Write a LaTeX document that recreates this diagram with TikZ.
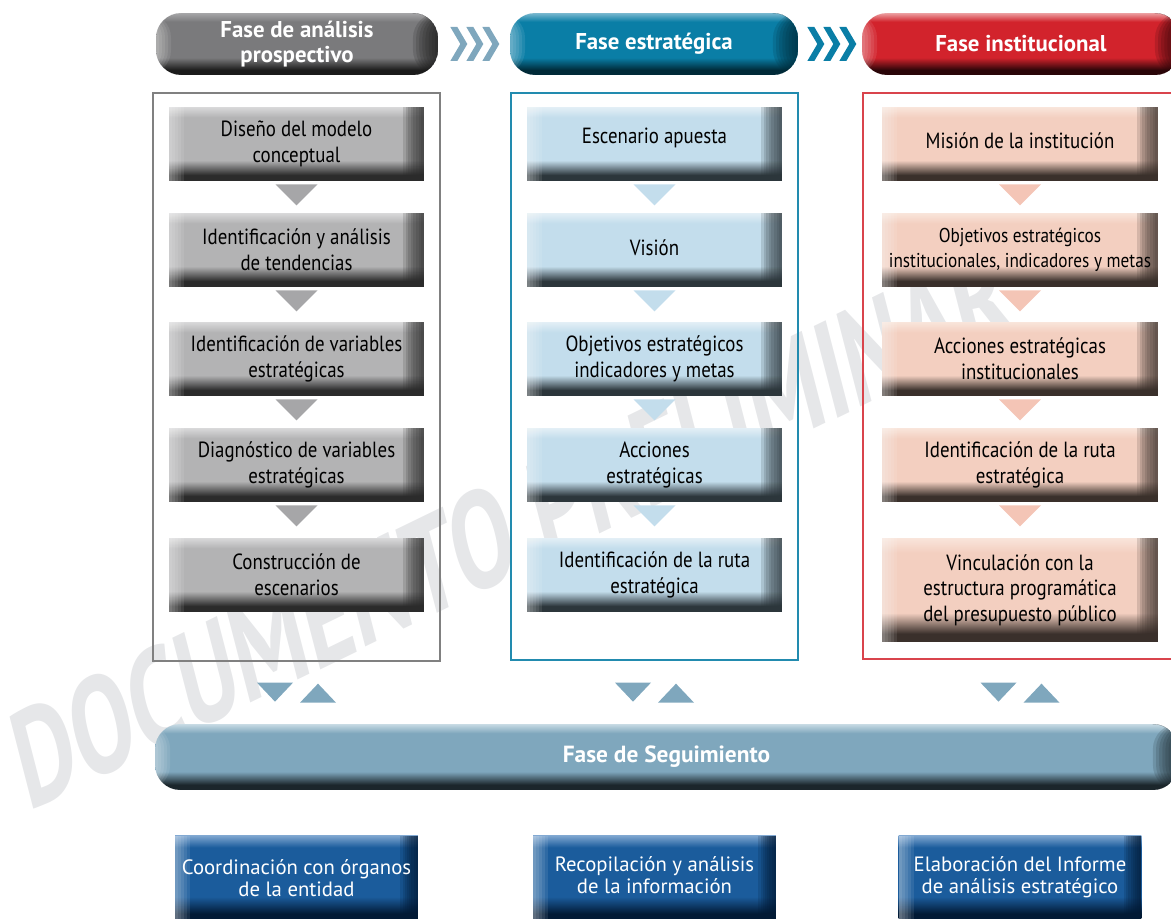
\documentclass[tikz,border=0pt]{standalone}
\usepackage{fontspec}
\setmainfont{PT Sans}
\newfontfamily\angosta[FakeStretch=0.86]{PT Sans}
\usetikzlibrary{calc}

\definecolor{grisclaro}{HTML}{D9D9DA}
\definecolor{grismedio}{HTML}{B3B3B4}
\definecolor{grisoscuro}{HTML}{2B2B2B}
\definecolor{celesteclaro}{HTML}{E3EFF6}
\definecolor{celestemedio}{HTML}{C3DDEC}
\definecolor{celesteoscuro}{HTML}{2C363B}
\definecolor{salmonclaro}{HTML}{F9E5DB}
\definecolor{salmonmedio}{HTML}{F3CFC0}
\definecolor{salmonoscuro}{HTML}{3A302B}
\definecolor{faseclaro}{HTML}{A6A6A8}
\definecolor{fasemedio}{HTML}{7A7A7C}
\definecolor{faseoscuro}{HTML}{1B1B1B}
\definecolor{tealclaro}{HTML}{7AB8CF}
\definecolor{tealmedio}{HTML}{0A7EA6}
\definecolor{tealoscuro}{HTML}{002A38}
\definecolor{rojoclaro}{HTML}{ECA0A2}
\definecolor{rojomedio}{HTML}{D2232C}
\definecolor{rojooscuro}{HTML}{2A0508}
\definecolor{seguiclaro}{HTML}{C8DBE4}
\definecolor{seguimedio}{HTML}{7FA7BD}
\definecolor{seguioscuro}{HTML}{1B262B}
\definecolor{azulclaro}{HTML}{7EA6D0}
\definecolor{azulmedio}{HTML}{1B5C9C}
\definecolor{azuloscuro}{HTML}{021A35}
\definecolor{marca}{HTML}{E6E7E9}

\colorlet{bvtop}{white}
\colorlet{bvmid}{gray}
\colorlet{bvbot}{black}
\pgfdeclareverticalshading[bvtop,bvmid,bvbot]{relieve}{100bp}{color(0bp)=(bvbot); color(29bp)=(bvbot); color(39bp)=(bvmid); color(68bp)=(bvmid); color(75bp)=(bvtop); color(100bp)=(bvtop)}

\tikzset{
	tonos/.style n args={3}{/utils/exec={\colorlet{bvtop}{#1}\colorlet{bvmid}{#2}\colorlet{bvbot}{#3}}, shade, shading=relieve},
	biselado/.style={path picture={
			\foreach \k in {1,...,8}
				\fill[bvbot, fill opacity=0.16] ([xshift=-#1*\k/8]path picture bounding box.north east) rectangle (path picture bounding box.south east);
			\foreach \k in {1,...,5}
				\fill[white, fill opacity=0.09] (path picture bounding box.north west) rectangle ([xshift=0.3cm*\k/5]path picture bounding box.south west);
		}},
	paso/.style={rectangle, minimum width=5.1cm, minimum height=1.48cm, inner sep=1pt, align=center, text=black, font=\angosta\fontsize{12.5}{14.6}\selectfont, biselado=0.42cm},
	pasogris/.style={paso, tonos={grisclaro}{grismedio}{grisoscuro}},
	pasoceleste/.style={paso, tonos={celesteclaro}{celestemedio}{celesteoscuro}},
	pasosalmon/.style={paso, minimum width=5.52cm, tonos={salmonclaro}{salmonmedio}{salmonoscuro}},
	fase/.style={rectangle, rounded corners=0.5cm, minimum height=1.24cm, inner sep=1pt, align=center, text=white, font=\bfseries\fontsize{13}{14.2}\selectfont, biselado=0.5cm},
	tarea/.style={rectangle, minimum width=4.86cm, minimum height=1.7cm, inner sep=1pt, align=center, text=white, font=\fontsize{11.8}{12.6}\selectfont, tonos={azulclaro}{azulmedio}{azuloscuro}, biselado=0.35cm},
	marco/.style={line width=0.7pt}
}

\begin{document}
\begin{tikzpicture}[x=0.02cm, y=-0.02cm]

	\useasboundingbox (0,0) rectangle (1171,919);

	\begin{scope}[shift={(28,812)}, cm={0.643,0.313,-0.25,0.97,(0,0)}]
		\node[transform shape, anchor=base west, inner sep=0pt, text=marca, font=\bfseries\fontsize{77}{77}\selectfont] (agua) at (0,0) {DOCUMENTO PRELIMINAR};
	\end{scope}

	\node[fase, tonos={faseclaro}{fasemedio}{faseoscuro}, minimum width=5.64cm] (analisis) at (297,44) {Fase de análisis\\prospectivo};
	\node[fase, tonos={tealclaro}{tealmedio}{tealoscuro}, minimum width=5.76cm] (estrategica) at (654,44) {Fase estratégica};
	\node[fase, tonos={rojoclaro}{rojomedio}{rojooscuro}, minimum width=6.36cm] (institucional) at (1021,44) {Fase institucional};

	\foreach \d in {0,16,32} {
		\fill[seguimedio] ($(analisis.east)+(12+\d,-17)$) -- ++(7,0) -- ++(10,17) -- ++(-10,17) -- ++(-7,0) -- ++(10,-17) -- cycle;
		\fill[tealmedio] ($(estrategica.east)+(9+\d,-17)$) -- ++(7,0) -- ++(10,17) -- ++(-10,17) -- ++(-7,0) -- ++(10,-17) -- cycle;
	}

	\draw[marco, gray] (153,93) rectangle (440,661);
	\draw[marco, tealmedio!90] (511,93) rectangle (798,660);
	\draw[marco, rojomedio!85] (863,93) rectangle (1178,659);

	\node[pasogris] (p1) at (296.5,144) {Diseño del modelo\\conceptual};
	\node[pasogris] (p2) at (296.5,250) {Identificación y análisis\\de tendencias};
	\node[pasogris] (p3) at (296.5,359) {Identificación de variables\\estratégicas};
	\node[pasogris] (p4) at (296.5,465) {Diagnóstico de variables\\estratégicas};
	\node[pasogris] (p5) at (296.5,575) {Construcción de\\escenarios};

	\node[pasoceleste] (e1) at (654.5,144) {\raisebox{0.34cm}{Escenario apuesta}};
	\node[pasoceleste] (e2) at (654.5,250) {\raisebox{0.1cm}{Visión}};
	\node[pasoceleste] (e3) at (654.5,359) {Objetivos estratégicos\\indicadores y metas};
	\node[pasoceleste] (e4) at (654.5,465) {Acciones\\estratégicas};
	\node[pasoceleste] (e5) at (654.5,575) {Identificación de la ruta\\estratégica};

	\node[pasosalmon] (i1) at (1020,144) {\raisebox{0.14cm}{Misión de la institución}};
	\node[pasosalmon, font=\angosta\fontsize{11.4}{14.4}\selectfont] (i2) at (1020,250) {Objetivos estratégicos\\institucionales, indicadores y metas};
	\node[pasosalmon] (i3) at (1020,359) {Acciones estratégicas\\institucionales};
	\node[pasosalmon] (i4) at (1020,465) {Identificación de la ruta\\estratégica};
	\node[pasosalmon, minimum height=2.08cm] (i5) at (1020,590) {Vinculación con la\\estructura programática\\del presupuesto público};

	\foreach \a in {p1,p2,p3,p4}
		\fill[faseclaro] ($(\a.south)+(-21,3)$) -- ++(42,0) -- ++(-21,21) -- cycle;
	\foreach \a in {e1,e2,e3,e4}
		\fill[celestemedio] ($(\a.south)+(-21,3)$) -- ++(42,0) -- ++(-21,21) -- cycle;
	\foreach \a in {i1,i2,i3,i4}
		\fill[salmonmedio!95!red] ($(\a.south)+(-21,3)$) -- ++(42,0) -- ++(-21,21) -- cycle;

	\node[fase, tonos={seguiclaro}{seguimedio}{seguioscuro}, minimum width=20.46cm, minimum height=1.32cm, font=\bfseries\fontsize{13.3}{14.2}\selectfont] (seguimiento) at (666.5,757) {Fase de Seguimiento};

	\foreach \c in {p5,e5,i5} {
		\fill[seguimedio] ($(\c |- seguimiento.north)+(-39.5,-41)$) -- ++(36,0) -- ++(-18,19) -- cycle;
		\fill[seguimedio] ($(\c |- seguimiento.north)+(3.5,-21)$) -- ++(36,0) -- ++(-18,-19) -- cycle;
	}

	\node[tarea] (coordinacion) at (296.5,878) {Coordinación con órganos\\de la entidad};
	\node[tarea] (recopilacion) at (654.5,878) {\raisebox{0.1cm}{\begin{tabular}{@{}c@{}}Recopilación y análisis\\de la información\end{tabular}}};
	\node[tarea] (informe) at (1020,878) {\raisebox{0.1cm}{\begin{tabular}{@{}c@{}}Elaboración del Informe\\de análisis estratégico\end{tabular}}};
\end{tikzpicture}
\end{document}
